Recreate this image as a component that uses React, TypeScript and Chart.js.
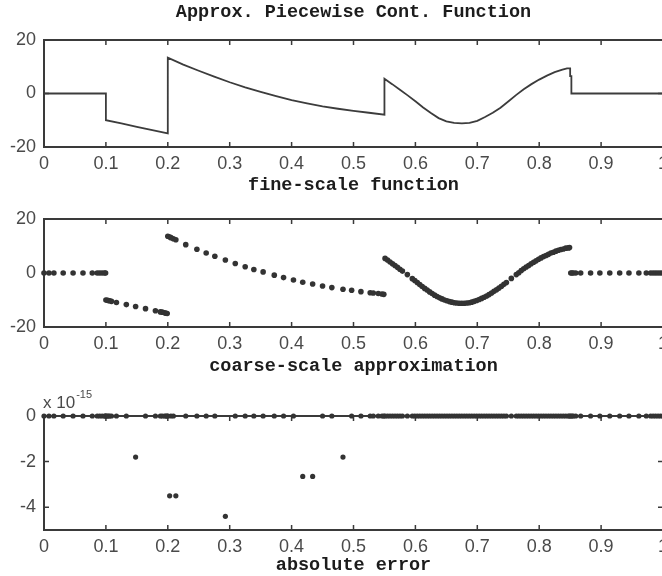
import React, { useEffect, useRef } from 'react';
import { Chart, registerables } from 'chart.js';

Chart.register(...registerables);

// ---------- data ----------
const xTicks = [0, 0.1, 0.2, 0.3, 0.4, 0.5, 0.6, 0.7, 0.8, 0.9, 1];
const funcTicksY = [-20, 0, 20];
const errTicksY = [-4, -2, 0];

// fine-scale function (vertical jumps are repeated x values)
const fineX = [
  0, 0.1, 0.1, 0.125, 0.15, 0.175, 0.2, 0.2, 0.225, 0.25, 0.275, 0.3, 0.325, 0.35, 0.375, 0.4,
  0.425, 0.45, 0.475, 0.5, 0.525, 0.55, 0.55, 0.5625, 0.575, 0.5875, 0.6, 0.6125, 0.625, 0.6375,
  0.65, 0.6625, 0.675, 0.6875, 0.7, 0.7125, 0.725, 0.7375, 0.75, 0.7625, 0.775, 0.7875, 0.8,
  0.8125, 0.825, 0.8375, 0.845, 0.85, 0.85, 0.852, 0.852, 1,
];
const fineY = [
  0, 0, -10, -11.2, -12.5, -13.7, -14.9, 13.4, 10.8, 8.5, 6.3, 4.2, 2.3, 0.6, -1.0, -2.5,
  -3.7, -4.8, -5.7, -6.5, -7.2, -7.9, 5.5, 3.5, 1.4, -0.7, -2.9, -5.2, -7.3, -9.2,
  -10.4, -11.0, -11.2, -11.0, -10.2, -8.8, -7.2, -5.3, -3.0, -0.6, 1.6, 3.5, 5.2,
  6.7, 8.0, 8.9, 9.4, 9.4, 6.5, 6.5, 0, 0,
];

// coarse-scale approximation samples
const coarseX = [
  // 0 .. 0.1
  0, 0.008, 0.016, 0.031, 0.047, 0.063, 0.078, 0.086, 0.09, 0.094, 0.098, 0.0995,
  // 0.1 .. 0.2
  0.1, 0.102, 0.104, 0.106, 0.109, 0.117, 0.133, 0.148, 0.164, 0.18, 0.188, 0.191, 0.195, 0.197, 0.199,
  // 0.2 .. 0.55
  0.2, 0.203, 0.205, 0.209, 0.213, 0.229, 0.247, 0.262, 0.276, 0.293, 0.309, 0.325, 0.339, 0.354,
  0.372, 0.387, 0.403, 0.418, 0.434, 0.45, 0.465, 0.483, 0.497, 0.512, 0.527, 0.532, 0.54, 0.546, 0.549,
  // 0.55 .. 0.85
  0.551, 0.555, 0.559, 0.563, 0.567, 0.571, 0.575, 0.579, 0.587, 0.595, 0.599, 0.603, 0.607, 0.611,
  0.615, 0.619, 0.623, 0.627, 0.631, 0.635, 0.639, 0.643, 0.647, 0.651, 0.655, 0.659, 0.663, 0.667,
  0.671, 0.675, 0.679, 0.683, 0.687, 0.691, 0.695, 0.699, 0.703, 0.707, 0.711, 0.715, 0.719, 0.723,
  0.727, 0.731, 0.735, 0.739, 0.743, 0.747, 0.755, 0.763, 0.767, 0.771, 0.775, 0.779, 0.783, 0.787,
  0.791, 0.795, 0.799, 0.803, 0.807, 0.811, 0.815, 0.819, 0.823, 0.827, 0.831, 0.835, 0.839, 0.843,
  0.847, 0.849,
  // 0.85 .. 1
  0.851, 0.853, 0.855, 0.859, 0.867, 0.883, 0.898, 0.914, 0.93, 0.945, 0.961, 0.973, 0.98, 0.984,
  0.988, 0.992, 0.996, 1,
];
const coarseY = [
  0, 0, 0, 0, 0, 0, 0, 0, 0, 0, 0, 0,
  -10, -10.1, -10.2, -10.3, -10.5, -10.9, -11.7, -12.4, -13.2, -14.0, -14.4, -14.5, -14.7, -14.9, -15.0,
  13.6, 13.3, 13.1, 12.7, 12.3, 10.5, 8.8, 7.4, 6.2, 4.8, 3.5, 2.3, 1.3, 0.4,
  -0.8, -1.7, -2.6, -3.4, -4.1, -4.8, -5.4, -6.0, -6.4, -6.9, -7.3, -7.4, -7.6, -7.8, -7.9,
  5.4, 4.8, 4.1, 3.4, 2.8, 2.1, 1.4, 0.7, -0.6, -2.1, -2.8, -3.5, -4.3, -5.0,
  -5.7, -6.3, -7.0, -7.6, -8.2, -8.7, -9.2, -9.6, -10.0, -10.3, -10.6, -10.8, -11.0, -11.1,
  -11.2, -11.2, -11.2, -11.1, -11.0, -10.8, -10.5, -10.2, -9.8, -9.4, -9.0, -8.5, -8.0, -7.4,
  -6.8, -6.2, -5.6, -4.9, -4.2, -3.5, -2.0, -0.6, 0.1, 0.9, 1.6, 2.2, 2.8, 3.4,
  4.0, 4.5, 5.1, 5.6, 6.1, 6.5, 6.9, 7.4, 7.7, 8.1, 8.4, 8.7, 8.9, 9.2,
  9.3, 9.4,
  0, 0, 0, 0, 0, 0, 0, 0, 0, 0, 0, 0, 0, 0,
  0, 0, 0, 0,
];

// nonzero absolute error samples (units of 1e-15); all other samples are 0
const errX = [0.148, 0.203, 0.213, 0.293, 0.418, 0.434, 0.483];
const errY = [-1.8, -3.5, -3.5, -4.4, -2.65, -2.65, -1.8];

// ---------- styles ----------
const SANS = '"Liberation Sans", Arial, Helvetica, sans-serif';
const MONO = '"Liberation Mono", "Courier New", monospace';
const AXIS = '#3a3a3a';
const TICK = '#4a4a4a';
const TEXT = '#1c1c1c';
const MARK = '#333333';
const CW = 707;

const boxPlugin = {
  id: 'matlabBox',
  beforeDatasetsDraw(chart: any) {
    const { ctx, chartArea: a, scales } = chart;
    ctx.save();
    ctx.strokeStyle = AXIS;
    ctx.lineWidth = 2;
    ctx.strokeRect(a.left, a.top, a.right - a.left, a.bottom - a.top);
    const tl = 5;
    ctx.beginPath();
    for (const t of scales.x.ticks) {
      const px = scales.x.getPixelForValue(t.value);
      ctx.moveTo(px, a.bottom);
      ctx.lineTo(px, a.bottom - tl);
      ctx.moveTo(px, a.top);
      ctx.lineTo(px, a.top + tl);
    }
    for (const t of scales.y.ticks) {
      const py = scales.y.getPixelForValue(t.value);
      ctx.moveTo(a.left, py);
      ctx.lineTo(a.left + tl, py);
      ctx.moveTo(a.right, py);
      ctx.lineTo(a.right - tl, py);
    }
    ctx.lineWidth = 1.5;
    ctx.stroke();
    ctx.restore();
  },
};

const exponentPlugin = {
  id: 'exponentLabel',
  afterDraw(chart: any) {
    const { ctx, chartArea: a } = chart;
    ctx.save();
    ctx.fillStyle = TICK;
    ctx.textBaseline = 'alphabetic';
    ctx.textAlign = 'left';
    ctx.font = `17px ${SANS}`;
    const base = a.top - 8;
    ctx.fillText('x 10', a.left - 1, base);
    const w = ctx.measureText('x 10').width;
    ctx.font = `11px ${SANS}`;
    ctx.fillText('-15', a.left - 1 + w + 1, base - 10);
    ctx.restore();
  },
};

function makeOptions(cfg: {
  yMin: number; yMax: number; yTicks: number[]; xTitle: string; xTitlePad: number;
  axisH: number; padTop: number; mainTitle?: string;
}) {
  const tickFont = { family: SANS, size: 18 };
  return {
    responsive: false,
    animation: false,
    devicePixelRatio: 1,
    layout: { padding: { top: cfg.padTop, left: 0, right: 44, bottom: 0 } },
    plugins: {
      legend: { display: false },
      tooltip: { enabled: false },
      title: cfg.mainTitle
        ? {
            display: true,
            text: cfg.mainTitle,
            fullSize: false,
            color: TEXT,
            font: { family: MONO, size: 18.5, weight: 'bold', lineHeight: 1.2 },
            padding: { top: 1, bottom: 16.8 },
          }
        : { display: false },
    },
    scales: {
      x: {
        type: 'linear',
        min: 0,
        max: 1,
        afterBuildTicks: (s: any) => { s.ticks = xTicks.map((v) => ({ value: v })); },
        afterFit: (s: any) => { s.height = cfg.axisH; },
        ticks: {
          callback: (v: any) => String(v),
          font: tickFont,
          color: TICK,
          padding: -2,
          maxRotation: 0,
          autoSkip: false,
        },
        grid: { display: false },
        border: { display: false },
        title: {
          display: true,
          text: cfg.xTitle,
          color: TEXT,
          font: { family: MONO, size: 18.5, weight: 'bold', lineHeight: 1.2 },
          padding: { top: 0, bottom: cfg.xTitlePad },
        },
      },
      y: {
        type: 'linear',
        min: cfg.yMin,
        max: cfg.yMax,
        afterBuildTicks: (s: any) => { s.ticks = cfg.yTicks.map((v) => ({ value: v })); },
        afterFit: (s: any) => { s.width = 44; },
        ticks: { callback: (v: any) => String(v), font: tickFont, color: TICK, padding: 0 },
        grid: { display: false },
        border: { display: false },
      },
    },
  } as any;
}

export default function App() {
  const r1 = useRef<HTMLCanvasElement>(null);
  const r2 = useRef<HTMLCanvasElement>(null);
  const r3 = useRef<HTMLCanvasElement>(null);

  useEffect(() => {
    const fine = fineX.map((x, i) => ({ x, y: fineY[i] }));
    const coarse = coarseX.map((x, i) => ({ x, y: coarseY[i] }));
    const err = coarseX.map((x) => {
      const k = errX.indexOf(x);
      return { x, y: k >= 0 ? errY[k] : 0 };
    });

    const c1 = new Chart(r1.current!, {
      type: 'scatter',
      data: {
        datasets: [{
          data: fine, showLine: true, borderColor: '#3c3c3c', borderWidth: 1.8,
          pointRadius: 0, tension: 0, clip: false,
        }],
      },
      options: makeOptions({
        yMin: -20, yMax: 20, yTicks: funcTicksY, xTitle: 'fine-scale function', xTitlePad: 3.9,
        axisH: 53, padTop: 0, mainTitle: 'Approx. Piecewise Cont. Function',
      }),
      plugins: [boxPlugin],
    });

    const c2 = new Chart(r2.current!, {
      type: 'scatter',
      data: {
        datasets: [{
          data: coarse, pointRadius: 2.8, pointBackgroundColor: MARK, pointBorderWidth: 0,
          showLine: false, clip: false,
        }],
      },
      options: makeOptions({
        yMin: -20, yMax: 20, yTicks: funcTicksY, xTitle: 'coarse-scale approximation', xTitlePad: 2.9,
        axisH: 53, padTop: 19,
      }),
      plugins: [boxPlugin],
    });

    const c3 = new Chart(r3.current!, {
      type: 'scatter',
      data: {
        datasets: [{
          data: err, pointRadius: 2.6, pointBackgroundColor: MARK, pointBorderWidth: 0,
          showLine: false, clip: false,
        }],
      },
      options: makeOptions({
        yMin: -5, yMax: 0, yTicks: errTicksY, xTitle: 'absolute error', xTitlePad: 0,
        axisH: 46, padTop: 36,
      }),
      plugins: [boxPlugin, exponentPlugin],
    });

    return () => { c1.destroy(); c2.destroy(); c3.destroy(); };
  }, []);

  return (
    <div style={{ position: 'absolute', left: 0, top: 0, width: 662, height: 576, overflow: 'hidden', background: '#fff' }}>
      <canvas ref={r1} width={CW} height={200} style={{ position: 'absolute', left: 0, top: 0 }} />
      <canvas ref={r2} width={CW} height={180} style={{ position: 'absolute', left: 0, top: 200 }} />
      <canvas ref={r3} width={CW} height={196} style={{ position: 'absolute', left: 0, top: 380 }} />
    </div>
  );
}
